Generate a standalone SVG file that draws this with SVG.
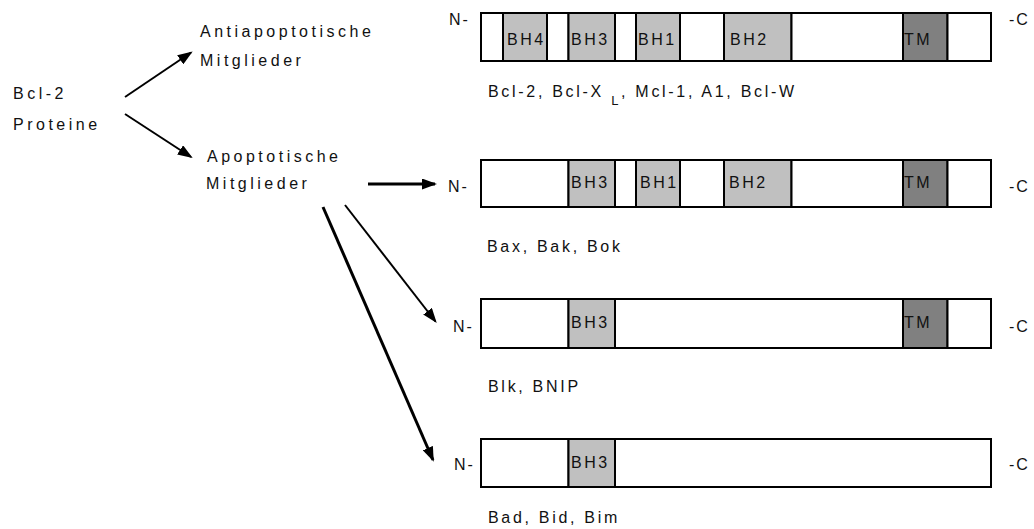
<svg xmlns="http://www.w3.org/2000/svg" width="1034" height="529" viewBox="0 0 1034 529">
<defs>
<style>
text{font-family:"Liberation Sans",Arial,sans-serif;fill:#111;}
.lbl{font-size:16px;letter-spacing:3.5px;}
.row{font-size:16px;letter-spacing:2.7px;}
.seg{font-size:16px;letter-spacing:2.5px;}
.end{font-size:16px;letter-spacing:2px;}
.box{stroke:#000;stroke-width:2;}
.w{fill:#fff;}
.g{fill:#c0c0c0;}
.d{fill:#808080;}
.arr{stroke:#000;fill:none;marker-end:url(#ah);}
</style>
<marker id="ah" viewBox="0 0 15 11" refX="13" refY="5.5" markerWidth="15" markerHeight="11" markerUnits="userSpaceOnUse" orient="auto">
<path d="M0,0 L15,5.5 L0,11 z" fill="#000"/>
</marker>
</defs>
<rect width="1034" height="529" fill="#fff"/>

<g id="connectors">
<line class="arr" x1="125" y1="97" x2="191" y2="52.5" stroke-width="2"/>
<line class="arr" x1="125" y1="114" x2="191" y2="157" stroke-width="2"/>
<line class="arr" x1="368" y1="184" x2="435" y2="184" stroke-width="3"/>
<line class="arr" x1="345" y1="205" x2="435.5" y2="321.5" stroke-width="2"/>
<line class="arr" x1="323" y1="207" x2="433" y2="460" stroke-width="3"/>
</g>

<g id="bcl2">
<text class="lbl" x="13" y="99">Bcl-2</text>
<text class="lbl" x="13" y="130">Proteine</text>
</g>

<g id="antiapoptotisch">
<text class="lbl" x="200" y="37">Antiapoptotische</text>
<text class="lbl" x="200" y="66">Mitglieder</text>
</g>

<g id="apoptotisch">
<text class="lbl" x="207" y="162">Apoptotische</text>
<text class="lbl" x="206" y="189">Mitglieder</text>
</g>

<g id="row1">
<text class="end" x="449" y="25">N-</text>
<rect class="box w" x="481" y="13" width="22" height="48"/>
<rect class="box g" x="503" y="13" width="44" height="48"/>
<rect class="box w" x="547" y="13" width="21.5" height="48"/>
<rect class="box g" x="568.5" y="13" width="46.5" height="48"/>
<rect class="box w" x="615" y="13" width="21" height="48"/>
<rect class="box g" x="636" y="13" width="44" height="48"/>
<rect class="box w" x="680" y="13" width="44" height="48"/>
<rect class="box g" x="724" y="13" width="67.5" height="48"/>
<rect class="box w" x="791.5" y="13" width="111.5" height="48"/>
<rect class="box d" x="903" y="13" width="44.5" height="48"/>
<rect class="box w" x="947.5" y="13" width="43.5" height="48"/>
<text class="seg" x="507" y="45">BH4</text>
<text class="seg" x="571" y="45">BH3</text>
<text class="seg" x="638" y="45">BH1</text>
<text class="seg" x="730" y="45">BH2</text>
<text class="seg" x="904" y="45">TM</text>
<text class="end" x="1009" y="25">-C</text>
<text class="row" x="488" y="97">Bcl-2, Bcl-X <tspan font-size="13" dy="8">L</tspan><tspan dy="-8">, Mcl-1, A1, Bcl-W</tspan></text>
</g>

<g id="row2">
<text class="end" x="448" y="192">N-</text>
<rect class="box w" x="481" y="160" width="87.5" height="47"/>
<rect class="box g" x="568.5" y="160" width="46.5" height="47"/>
<rect class="box w" x="615" y="160" width="21" height="47"/>
<rect class="box g" x="636" y="160" width="44" height="47"/>
<rect class="box w" x="680" y="160" width="44" height="47"/>
<rect class="box g" x="724" y="160" width="67.5" height="47"/>
<rect class="box w" x="791.5" y="160" width="111.5" height="47"/>
<rect class="box d" x="903" y="160" width="44.5" height="47"/>
<rect class="box w" x="947.5" y="160" width="43.5" height="47"/>
<text class="seg" x="571" y="188">BH3</text>
<text class="seg" x="640" y="188">BH1</text>
<text class="seg" x="729" y="188">BH2</text>
<text class="seg" x="904" y="188">TM</text>
<text class="end" x="1009" y="192">-C</text>
<text class="row" x="487" y="252">Bax, Bak, Bok</text>
</g>

<g id="row3">
<text class="end" x="453" y="332">N-</text>
<rect class="box w" x="481" y="299" width="87.5" height="49"/>
<rect class="box g" x="568.5" y="299" width="46.5" height="49"/>
<rect class="box w" x="615" y="299" width="288" height="49"/>
<rect class="box d" x="903" y="299" width="44.5" height="49"/>
<rect class="box w" x="947.5" y="299" width="43.5" height="49"/>
<text class="seg" x="571" y="328">BH3</text>
<text class="seg" x="904" y="328">TM</text>
<text class="end" x="1009" y="332">-C</text>
<text class="row" x="488" y="392">Blk, BNIP</text>
</g>

<g id="row4">
<text class="end" x="454" y="470">N-</text>
<rect class="box w" x="481" y="439" width="87.5" height="48"/>
<rect class="box g" x="568.5" y="439" width="46.5" height="48"/>
<rect class="box w" x="615" y="439" width="376" height="48"/>
<text class="seg" x="571" y="468">BH3</text>
<text class="end" x="1009" y="470">-C</text>
<text class="row" x="488" y="523">Bad, Bid, Bim</text>
</g>
</svg>
